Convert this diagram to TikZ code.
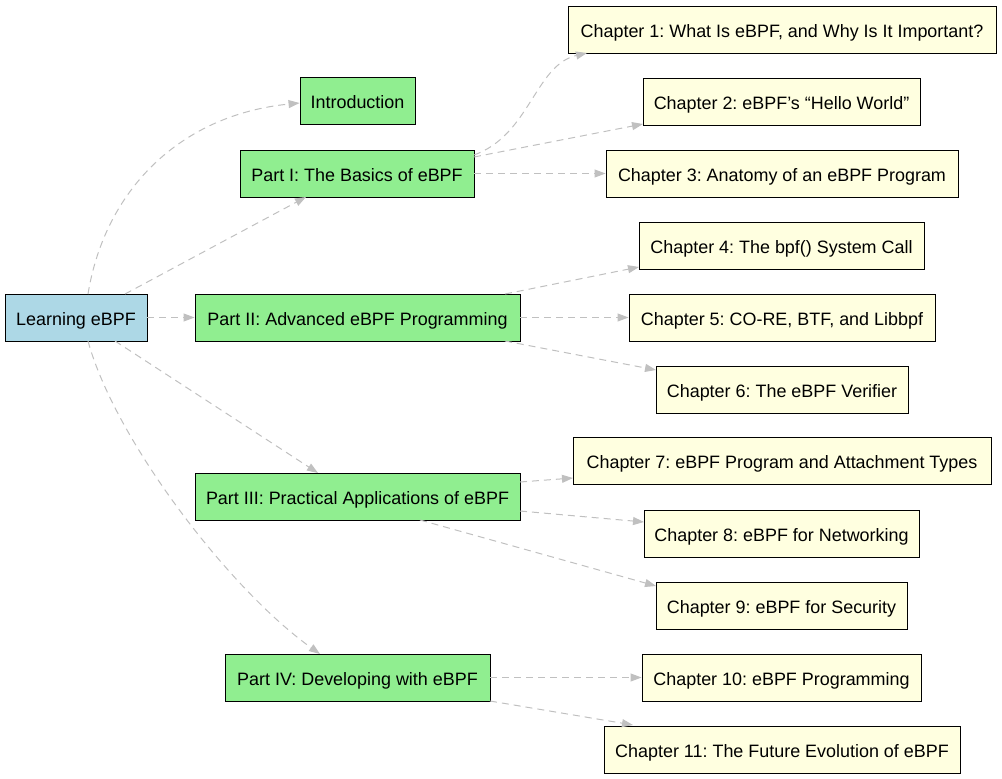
\documentclass[tikz,border=0pt]{standalone}
\usepackage{fontspec}
\setmainfont{Liberation Sans}
\usetikzlibrary{arrows.meta}
\frenchspacing

\tikzstyle{baseBox}=[shape=rectangle,draw=black,line width=0.9bp,minimum height=47bp,inner xsep=0pt,inner ysep=0pt,text height=17bp,text depth=2bp,font=\fontsize{18}{21}\selectfont]
\tikzstyle{bookNode}=[baseBox,fill={rgb,255:red,173;green,216;blue,230}]
\tikzstyle{partNode}=[baseBox,fill={rgb,255:red,144;green,238;blue,144}]
\tikzstyle{chapterNode}=[baseBox,fill={rgb,255:red,255;green,255;blue,224}]
\tikzstyle{link}=[draw={rgb,255:red,192;green,192;blue,192},line width=1bp,dash pattern=on 7bp off 5bp,-{Triangle[length=11bp,width=8bp,fill={rgb,255:red,192;green,192;blue,192}]}]

\begin{document}
\begin{tikzpicture}[x=1bp,y=-1bp]
        \useasboundingbox (0,0) rectangle (1002,779);
        % book and parts
        \node[bookNode,minimum width=142bp]   (learn) at (76,317.5)   {Learning eBPF};
        \node[partNode,minimum width=115bp]   (intro) at (357.5,101)  {Introduction};
        \node[partNode,minimum width=234bp]   (p1)    at (357,173.5)  {Part I: The Basics of eBPF};
        \node[partNode,minimum width=325bp]   (p2)    at (357.5,317.5) {Part II: Advanced eBPF Programming};
        \node[partNode,minimum width=325bp]   (p3)    at (357.5,497)  {Part III: Practical Applications of eBPF};
        \node[partNode,minimum width=265bp]   (p4)    at (357.5,677.5) {Part IV: Developing with eBPF};

        % chapters
        \node[chapterNode,minimum width=428bp] (c1)  at (782,30)     {Chapter 1: What Is eBPF, and Why Is It Important?};
        \node[chapterNode,minimum width=277bp] (c2)  at (781.5,101.5) {Chapter 2: eBPF’s “Hello World”};
        \node[chapterNode,minimum width=352bp] (c3)  at (782,173.5)  {Chapter 3: Anatomy of an eBPF Program};
        \node[chapterNode,minimum width=285bp] (c4)  at (781.5,245.5) {Chapter 4: The bpf() System Call};
        \node[chapterNode,minimum width=306bp] (c5)  at (782,317.5)  {Chapter 5: CO-RE, BTF, and Libbpf};
        \node[chapterNode,minimum width=252bp] (c6)  at (782,389.5)  {Chapter 6: The eBPF Verifier};
        \node[chapterNode,minimum width=418bp] (c7)  at (782,461)    {Chapter 7: eBPF Program and Attachment Types};
        \node[chapterNode,minimum width=275bp] (c8)  at (781.5,533.5) {Chapter 8: eBPF for Networking};
        \node[chapterNode,minimum width=251bp] (c9)  at (781.5,605.5) {Chapter 9: eBPF for Security};
        \node[chapterNode,minimum width=279bp] (c10) at (781.5,677.5) {Chapter 10: eBPF Programming};
        \node[chapterNode,minimum width=356bp] (c11) at (782,749.5)  {Chapter 11: The Future Evolution of eBPF};

        % book to parts
        \draw [link] (88,294) .. controls (105,190) and (180,115) .. (intro.west |- 0,103);
        \draw [link] (125,294) to (306,197);
        \draw [link] (learn) to (p2);
        \draw [link] (115,341) to (318,473);
        \draw [link] (88,341) .. controls (115,440) and (230,590) .. (320,654);

        % parts to chapters
        \draw [link] (474,155) .. controls (530,135) and (535,65) .. (587,53);
        \draw [link] (474,157) to (643,124);
        \draw [link] (p1) to (c3);
        \draw [link] (505,294) to (639,267);
        \draw [link] (p2) to (c5);
        \draw [link] (505,341) to (656,370);
        \draw [link] (520,482) to (573,478);
        \draw [link] (520,511) to (644,522);
        \draw [link] (420,520) to (656,586);
        \draw [link] (p4) to (c10);
        \draw [link] (490,701) to (633,725);
\end{tikzpicture}
\end{document}
